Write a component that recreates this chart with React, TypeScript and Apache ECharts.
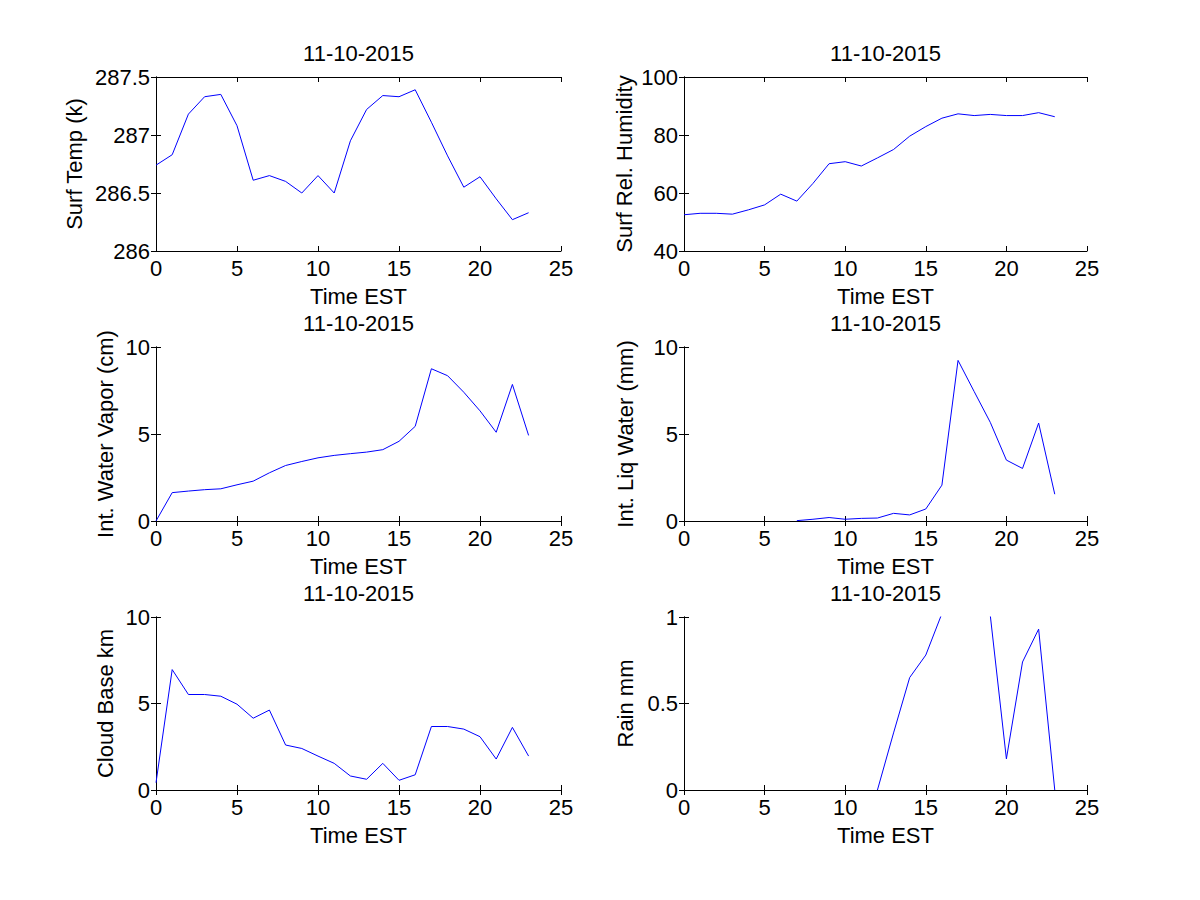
import React, { useEffect, useRef } from "react";
import * as echarts from "echarts";

const hours = [0,1,2,3,4,5,6,7,8,9,10,11,12,13,14,15,16,17,18,19,20,21,22,23];
const dateTitle = "11-10-2015";
const xName = "Time EST";

const surfTemp = [286.74,286.83,287.18,287.33,287.35,287.08,286.61,286.65,286.60,286.50,286.65,286.50,286.95,287.22,287.34,287.33,287.39,287.11,286.82,286.55,286.64,286.45,286.27,286.33];
const relHum = [52.5,53.0,53.0,52.7,54.2,55.9,59.6,57.2,63.3,70.1,70.8,69.3,72.1,75.0,79.6,82.9,85.8,87.3,86.7,87.1,86.7,86.7,87.7,86.3];
const waterVapor = [0,1.63,1.72,1.80,1.85,2.08,2.29,2.77,3.19,3.42,3.63,3.77,3.87,3.96,4.10,4.58,5.44,8.75,8.35,7.4,6.33,5.1,7.85,4.92];
const liqWater = [null,null,null,null,null,null,null,0.02,0.1,0.2,0.1,0.15,0.17,0.44,0.35,0.69,2.06,9.23,7.44,5.67,3.5,3.02,5.63,1.54];
const cloudBase = [0.42,6.96,5.52,5.52,5.42,4.96,4.15,4.62,2.6,2.4,1.96,1.54,0.81,0.62,1.54,0.56,0.88,3.67,3.67,3.52,3.08,1.79,3.62,1.96];
const rain = [null,null,null,null,null,null,null,null,null,null,null,null,0,0.33,0.65,0.78,1.02,1.6,1.4,1.01,0.18,0.74,0.93,0];

const panels = [
  { name: "Surf Temp (k)", data: surfTemp, min: 286, max: 287.5, interval: 0.5, nameGap: 71 },
  { name: "Surf Rel. Humidity", data: relHum, min: 40, max: 100, interval: 20, nameGap: 49 },
  { name: "Int. Water Vapor (cm)", data: waterVapor, min: 0, max: 10, interval: 5, nameGap: 40 },
  { name: "Int. Liq Water (mm)", data: liqWater, min: 0, max: 10, interval: 5, nameGap: 48 },
  { name: "Cloud Base km", data: cloudBase, min: 0, max: 10, interval: 5, nameGap: 40 },
  { name: "Rain mm", data: rain, min: 0, max: 1, interval: 0.5, nameGap: 48 },
];

const FONT = "Liberation Sans";
const FS = 22;

export default function App() {
  const ref = useRef<HTMLDivElement>(null);
  useEffect(() => {
    document.body.style.margin = "0";
    const chart = echarts.init(ref.current!, null, { renderer: "svg" });
    const colLeft = [156, 684];
    const colWidth = [405, 403];
    const rowTop = [77, 347, 617];
    const rowH = [174, 174, 173];
    const grids: any[] = [];
    const xAxes: any[] = [];
    const yAxes: any[] = [];
    const series: any[] = [];
    const graphics: any[] = [];
    const axisLine = { show: true, lineStyle: { color: "#000", width: 1 } };
    const tick = { show: true, inside: true, length: 5, lineStyle: { color: "#000", width: 1 } };
    panels.forEach((p, i) => {
      const r = Math.floor(i / 2);
      const c = i % 2;
      grids.push({ left: colLeft[c], top: rowTop[r], width: colWidth[c], height: rowH[r], containLabel: false });
      const gi = grids.length - 1;
      xAxes.push({
        type: "value", gridIndex: gi, min: 0, max: 25, interval: 5, position: "bottom",
        name: xName, nameLocation: "middle", nameGap: 34,
        nameTextStyle: { color: "#000", fontSize: FS, fontFamily: FONT },
        axisLine, axisTick: tick, splitLine: { show: false },
        axisLabel: { color: "#000", fontSize: FS, fontFamily: FONT, margin: 6 },
      });
      xAxes.push({
        type: "value", gridIndex: gi, min: 0, max: 25, interval: 5, position: "top",
        axisLine, axisTick: tick, splitLine: { show: false }, axisLabel: { show: false },
      });
      yAxes.push({
        type: "value", gridIndex: gi, min: p.min, max: p.max, interval: p.interval, position: "left",
        name: p.name, nameLocation: "middle", nameGap: p.nameGap,
        nameTextStyle: { color: "#000", fontSize: FS, fontFamily: FONT },
        axisLine, axisTick: tick, splitLine: { show: false },
        axisLabel: { color: "#000", fontSize: FS, fontFamily: FONT, margin: 6 },
      });
      yAxes.push({
        type: "value", gridIndex: gi, min: p.min, max: p.max, interval: p.interval, position: "right",
        axisLine, axisTick: tick, splitLine: { show: false }, axisLabel: { show: false },
      });
      series.push({
        type: "line", xAxisIndex: 2 * gi, yAxisIndex: 2 * gi,
        data: hours.map((h, k) => [h, p.data[k] == null ? "-" : p.data[k]]),
        showSymbol: false, symbol: "none", clip: true, connectNulls: false,
        lineStyle: { color: "#0000ff", width: 1 }, itemStyle: { color: "#0000ff" },
      });
      graphics.push({
        type: "text", x: colLeft[c] + colWidth[c] / 2, y: rowTop[r] - 24,
        style: { text: dateTitle, fill: "#000", fontSize: FS, fontFamily: FONT, textAlign: "center", textVerticalAlign: "middle" },
      });
    });
    chart.setOption({
      animation: false,
      backgroundColor: "#fff",
      grid: grids,
      xAxis: xAxes,
      yAxis: yAxes,
      series,
      graphic: graphics,
    });
    return () => chart.dispose();
  }, []);
  return <div ref={ref} style={{ width: 1200, height: 900 }} />;
}
